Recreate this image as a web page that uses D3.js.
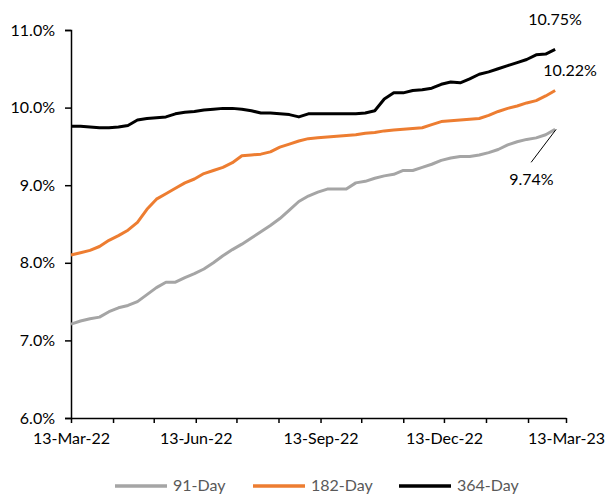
<!DOCTYPE html>
<html><head><meta charset="utf-8">
<script src="https://cdn.jsdelivr.net/npm/d3@7"></script>
<style>
body{margin:0;background:#fff;}
svg{display:block;font-family:"Lato","Open Sans",sans-serif;}
</style></head>
<body><div id="chart"></div>
<script>
const startDate = "2022-03-13";
const weeks = 52;
const series91 = [7.21,7.25,7.28,7.30,7.37,7.42,7.45,7.50,7.59,7.68,7.75,7.75,7.81,7.86,7.92,8.00,8.09,8.17,8.24,8.32,8.40,8.48,8.57,8.68,8.79,8.86,8.91,8.95,8.95,8.95,9.03,9.05,9.09,9.12,9.14,9.19,9.19,9.23,9.27,9.32,9.35,9.37,9.37,9.39,9.42,9.46,9.52,9.56,9.59,9.61,9.65,9.72];
const series182 = [8.10,8.13,8.16,8.21,8.29,8.35,8.42,8.52,8.69,8.82,8.89,8.96,9.03,9.08,9.15,9.19,9.23,9.29,9.38,9.39,9.40,9.43,9.49,9.53,9.57,9.60,9.61,9.62,9.63,9.64,9.65,9.67,9.68,9.70,9.71,9.72,9.73,9.74,9.78,9.82,9.83,9.84,9.85,9.86,9.90,9.95,9.99,10.02,10.06,10.09,10.15,10.22];
const series364 = [9.76,9.76,9.75,9.74,9.74,9.75,9.77,9.84,9.86,9.87,9.88,9.92,9.94,9.95,9.97,9.98,9.99,9.99,9.98,9.96,9.93,9.93,9.92,9.91,9.88,9.92,9.92,9.92,9.92,9.92,9.92,9.93,9.96,10.11,10.19,10.19,10.22,10.23,10.25,10.30,10.33,10.32,10.37,10.43,10.46,10.50,10.54,10.58,10.62,10.68,10.69,10.75];
const seriesNames = ["91-Day","182-Day","364-Day"];
const seriesColors = ["#A5A5A5","#ED7D31","#000000"];
const xTickDates = ["2022-03-13","2022-04-13","2022-05-13","2022-06-13","2022-07-13","2022-08-13","2022-09-13","2022-10-13","2022-11-13","2022-12-13","2023-01-13","2023-02-13","2023-03-13"];
const yTicks = [6,7,8,9,10,11];
const endLabels = ["9.74%","10.22%","10.75%"];

const W = 608, H = 494;
const m = {left:71, right:42, top:30, bottom:76};
const parse = d3.utcParse("%Y-%m-%d");
const start = parse(startDate);
const dates = d3.range(weeks).map(i => d3.utcDay.offset(start, i*7));
const allSeries = [series91, series182, series364];

const svg = d3.select("#chart").append("svg").attr("width", W).attr("height", H);

const x = d3.scaleUtc().domain([parse(xTickDates[0]), parse(xTickDates[xTickDates.length-1])]).range([m.left, W - m.right]);
const y = d3.scaleLinear().domain([6, 11]).range([H - m.bottom, m.top]);

// Y axis
const yAxis = svg.append("g").attr("transform", `translate(${m.left},0)`)
  .call(d3.axisLeft(y).tickValues(yTicks).tickSize(6).tickPadding(10).tickFormat(d => d3.format(".1f")(d) + "%"));
yAxis.selectAll("text").attr("font-size", 16).attr("fill", "#000").attr("font-family", "Lato, sans-serif");
yAxis.select(".domain").attr("stroke", "#000").attr("stroke-width", 1.5);
yAxis.selectAll(".tick line").attr("stroke", "#000").attr("stroke-width", 1.5);

// X axis
const fmt = d3.utcFormat("%d-%b-%y");
const xAxis = svg.append("g").attr("transform", `translate(0,${H - m.bottom})`)
  .call(d3.axisBottom(x).tickValues(xTickDates.map(parse)).tickSize(5).tickSizeOuter(0).tickPadding(10)
    .tickFormat((d, i) => i % 3 === 0 ? fmt(d) : ""));
xAxis.selectAll("text").attr("font-size", 16).attr("fill", "#000").attr("font-family", "Lato, sans-serif");
xAxis.select(".domain").attr("stroke", "#000").attr("stroke-width", 1.5);
xAxis.selectAll(".tick line").attr("stroke", "#000").attr("stroke-width", 1.5);

// Lines
const line = d3.line().x((d, i) => x(dates[i])).y(d => y(d));
allSeries.forEach((s, k) => {
  svg.append("path").datum(s).attr("fill", "none").attr("stroke", seriesColors[k])
    .attr("stroke-width", 3).attr("stroke-linejoin", "round").attr("d", line);
});

// End labels
const lastDate = dates[weeks - 1];
const lx = x(lastDate);
svg.append("text").attr("x", lx - 27).attr("y", y(series364[weeks-1]) - 24)
  .attr("font-size", 16).attr("fill", "#000").text(endLabels[2]);
svg.append("text").attr("x", lx - 12).attr("y", y(series364[weeks-1]) + 27)
  .attr("font-size", 16).attr("fill", "#000").text(endLabels[1]);
const ly = y(series91[weeks-1]);
svg.append("line").attr("x1", lx + 1).attr("y1", ly).attr("x2", lx - 24).attr("y2", ly + 33)
  .attr("stroke", "#000").attr("stroke-width", 1);
svg.append("text").attr("x", lx - 46).attr("y", ly + 56)
  .attr("font-size", 16).attr("fill", "#000").text(endLabels[0]);

// Legend
const legendX = [115, 253, 399];
const legendY = 486;
seriesNames.forEach((n, k) => {
  svg.append("line").attr("x1", legendX[k]).attr("x2", legendX[k] + 52)
    .attr("y1", legendY).attr("y2", legendY).attr("stroke", seriesColors[k]).attr("stroke-width", 3.5);
  svg.append("text").attr("x", legendX[k] + 58).attr("y", legendY + 5)
    .attr("font-size", 16).attr("fill", "#595959").text(n);
});
</script>
</body></html>
